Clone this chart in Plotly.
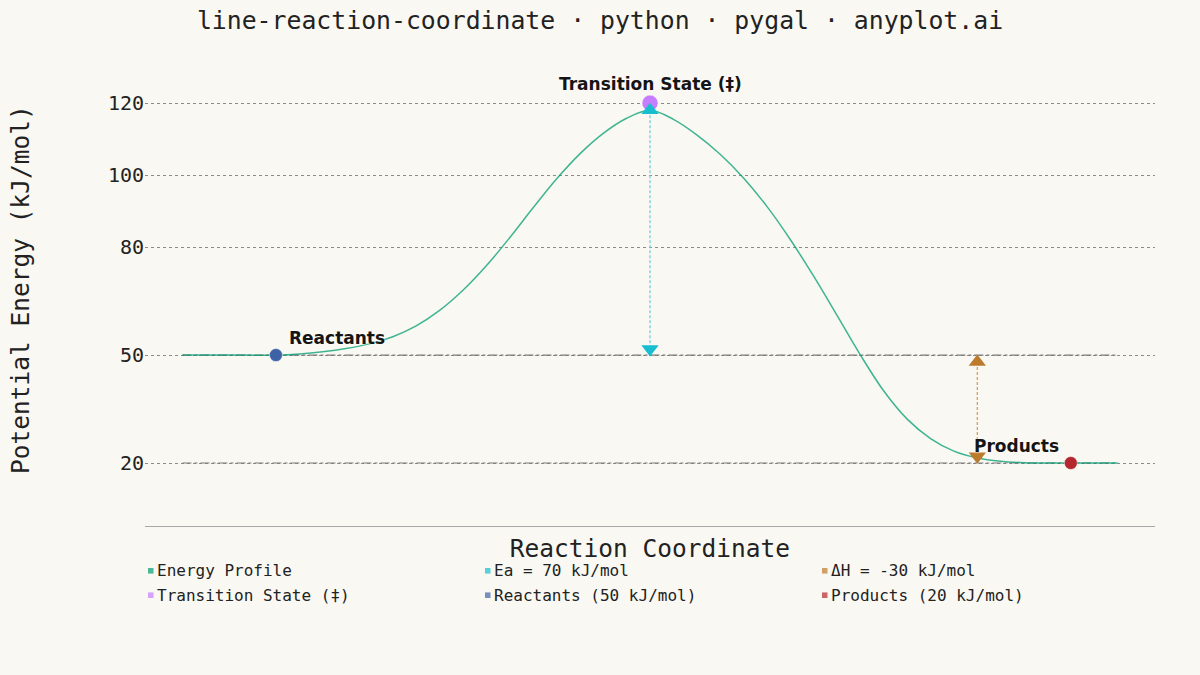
import plotly.graph_objects as go

# energy profile (reaction coordinate in arbitrary units, kJ/mol)
coord = [0, 0.5, 1.0, 1.25, 1.5, 1.75, 2.0, 2.25, 2.5, 2.75, 3.0, 3.25, 3.5, 3.75,
         4.0, 4.25, 4.5, 4.75, 5.0, 5.25, 5.5, 5.75, 6.0, 6.25, 6.5, 6.75, 7.0,
         7.25, 7.5, 7.75, 8.0, 8.25, 8.5, 8.75, 9.0, 9.25, 9.5, 10]
energy = [50, 50, 50, 50.3, 50.9, 51.8, 53.1, 55.1, 58.1, 62.4, 68.0, 74.8, 82.6, 90.9,
          98.9, 105.9, 111.6, 115.8, 118, 115.5, 111.2, 105.8, 99.2, 91.3, 82.1, 71.9, 61.0,
          50.0, 40.0, 32.2, 26.8, 23.3, 21.4, 20.5, 20.1, 20, 20, 20]

# key states
reactant_x, reactant_e = 1.0, 50
ts_x, ts_e = 5.0, 120
product_x, product_e = 9.5, 20

# energy arrows (Ea and dH)
ea_x, ea_y = [5.0, 5.0], [118, 51.7]
dh_x, dh_y = [8.5, 8.5], [48.1, 21.9]

# dash-dot reference levels
level_x = [0, 10]
levels = [50, 20]

y_ticks = [20, 50, 80, 100, 120]

legend_labels = ["Energy Profile", "Ea = 70 kJ/mol", "ΔH = -30 kJ/mol",
                 "Transition State (‡)", "Reactants (50 kJ/mol)", "Products (20 kJ/mol)"]

# palette
BG = "#faf8f2"
INK = "#222222"
GRID = "#8c8c8c"
GREEN = "#009E73"
CYAN = "#17BECF"
BROWN = "#BC7A2C"
PURPLE = "#C77DFF"
BLUE = "#3E62A6"
RED = "#B2282E"
legend_colors = [GREEN, CYAN, BROWN, PURPLE, BLUE, RED]

MONO = "DejaVu Sans Mono, monospace"
SANS = "DejaVu Sans, sans-serif"

# plot box in pixels (used for the hand-placed legend)
L, R, T, B = 145, 1155, 52, 526


def px_x(x):
    return (x - L) / (R - L)


def px_y(y):
    return (B - y) / (B - T)


fig = go.Figure()

for lv in levels:
    fig.add_trace(go.Scatter(
        x=level_x, y=[lv, lv], mode="lines",
        line=dict(color="#7a7a7a", width=1.2, dash="dashdot"),
        hoverinfo="skip", showlegend=False,
    ))

fig.add_trace(go.Scatter(
    x=coord, y=energy, mode="lines", line_shape="spline",
    line=dict(color=GREEN, width=1.5), opacity=0.75,
    name="Energy Profile", showlegend=False,
))

fig.add_trace(go.Scatter(
    x=[ts_x], y=[ts_e], mode="markers",
    marker=dict(size=16, color=PURPLE, line=dict(color="rgba(255,255,255,0.5)", width=1)),
    name="Transition State", showlegend=False,
))

fig.add_trace(go.Scatter(
    x=ea_x, y=ea_y, mode="lines+markers",
    line=dict(color="#6fd0dc", width=1.3, dash="3px,2px"),
    marker=dict(symbol=["triangle-up", "triangle-down"], size=15, color=CYAN),
    name="Ea", showlegend=False,
))

fig.add_trace(go.Scatter(
    x=dh_x, y=dh_y, mode="lines+markers",
    line=dict(color="#d8a05c", width=1.3, dash="3px,2px"),
    marker=dict(symbol=["triangle-up", "triangle-down"], size=15, color=BROWN),
    name="dH", showlegend=False,
))

for x, e, c in [(reactant_x, reactant_e, BLUE), (product_x, product_e, RED)]:
    fig.add_trace(go.Scatter(
        x=[x], y=[e], mode="markers",
        marker=dict(size=13, color=c, line=dict(color="rgba(255,255,255,0.5)", width=1)),
        showlegend=False,
    ))

label_font = dict(family=SANS, size=17, color="#151515", weight="bold",
                  shadow="0px 0px 3px #ffffff")
fig.add_annotation(x=ts_x, y=ts_e, text="Transition State (‡)", showarrow=False,
                   yshift=19, font=label_font)
fig.add_annotation(x=reactant_x, y=reactant_e, text="Reactants", showarrow=False,
                   xanchor="left", xshift=11, yshift=17, font=label_font)
fig.add_annotation(x=product_x, y=product_e, text="Products", showarrow=False,
                   xanchor="right", xshift=-10, yshift=17, font=label_font)

# legend: 3 columns x 2 rows of small squares + mono text
cols = [148, 485, 822]
rows = [570.8, 595.2]
for i, (lab, col) in enumerate(zip(legend_labels, legend_colors)):
    cx, cy = cols[i % 3], rows[i // 3]
    fig.add_shape(type="rect", xref="paper", yref="paper",
                  x0=px_x(cx), x1=px_x(cx + 5.5), y0=px_y(cy - 2.8), y1=px_y(cy + 2.8),
                  fillcolor=col, opacity=0.7, line=dict(width=0))
    fig.add_annotation(xref="paper", yref="paper", x=px_x(cx + 7), y=px_y(cy),
                       xanchor="left", yanchor="middle", text=lab, showarrow=False,
                       font=dict(family=MONO, size=16, color=INK))

fig.add_annotation(xref="paper", yref="paper", x=px_x(20), y=px_y(290),
                   text="Potential Energy (kJ/mol)", textangle=-90, showarrow=False,
                   xanchor="center", yanchor="middle",
                   font=dict(family=MONO, size=24.5, color=INK))

fig.update_layout(
    width=1200, height=675,
    paper_bgcolor=BG, plot_bgcolor=BG,
    margin=dict(l=L, r=1200 - R, t=T, b=675 - B),
    font=dict(family=MONO, color=INK),
    title=dict(text="line-reaction-coordinate · python · pygal · anyplot.ai",
               x=0.5, xanchor="center", y=1 - 20 / 675, yanchor="middle",
               font=dict(family=MONO, size=24.8, color=INK)),
    xaxis=dict(range=[-0.4, 10.4], showgrid=False, zeroline=False,
               showticklabels=False, ticks="",
               showline=True, linecolor="#a8a8a8", linewidth=1.2,
               title=dict(text="Reaction Coordinate", standoff=13,
                          font=dict(family=MONO, size=24.5, color=INK))),
    yaxis=dict(range=[2.5, 134.2], tickvals=y_ticks, ticks="",
               tickfont=dict(family=MONO, size=20, color=INK),
               showgrid=True, gridcolor=GRID, griddash="dot", gridwidth=1,
               zeroline=False, showline=False),
    showlegend=False,
)

fig.write_html("out.html", config={"displayModeBar": False}, post_script=(
    "document.body.style.margin='0';"
    f"document.body.style.background='{BG}';"
))
